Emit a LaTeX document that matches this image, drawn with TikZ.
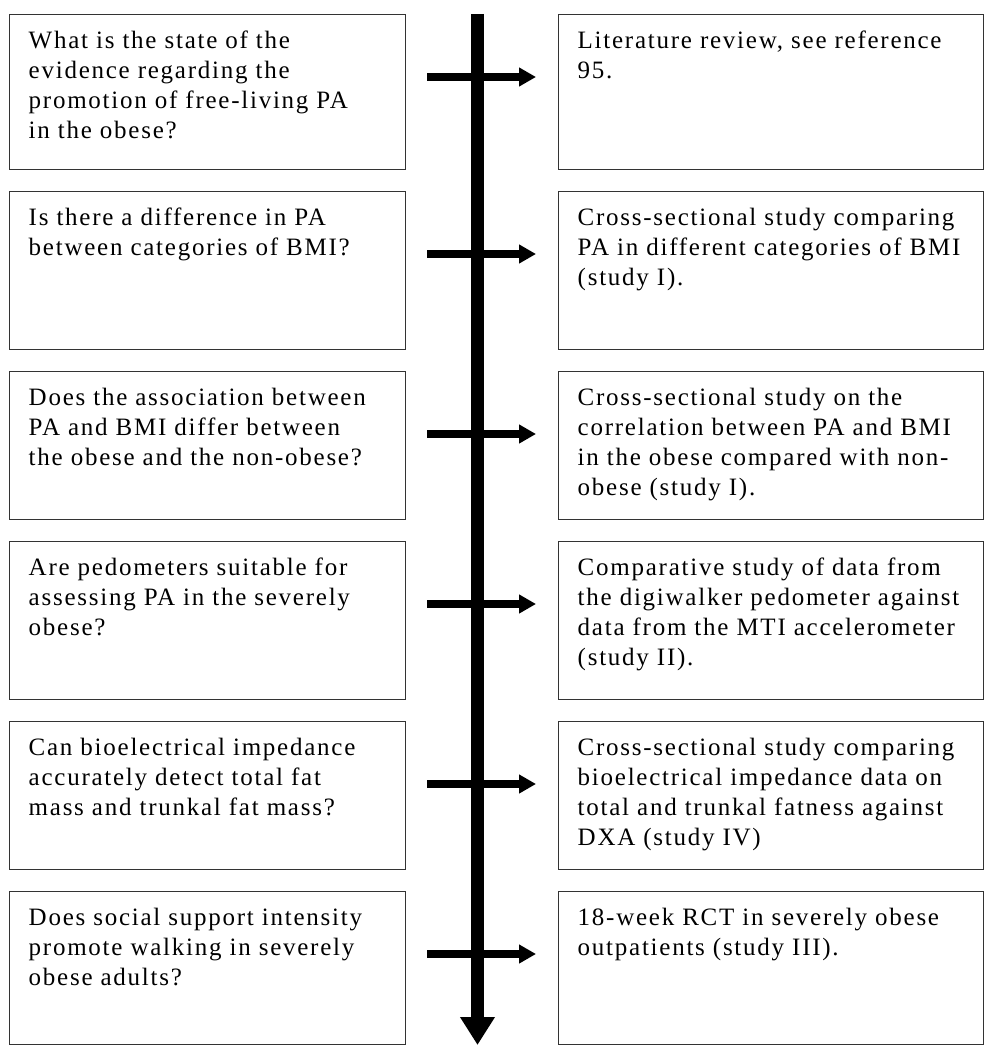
\documentclass[tikz,border=0pt]{standalone}
\usepackage{fontspec}
\setmainfont{Liberation Serif}[LetterSpace=7]
\usetikzlibrary{arrows.meta,calc}
\newcommand\bxt[3]{\begin{minipage}[c][#2][t]{#1}\raggedright\leftskip=19pt\parindent=0pt\fontsize{25pt}{30pt}\selectfont\rule{0pt}{34pt}#3\end{minipage}}
\begin{document}
\begin{tikzpicture}[x=1pt,y=-1pt,
  box/.style={draw=black!80, line width=1.4pt, inner sep=0pt, anchor=north west},
  harrow/.style={line width=7.5pt, -{Triangle[length=17pt,width=18pt]}, shorten <=21pt, shorten >=22pt},
  varrow/.style={line width=13pt, -{Triangle[length=28pt,width=33pt]}}]
\useasboundingbox (0,0) rectangle (985,1046);
% left column
\node[box] (q1) at (9,14)  {\bxt{396pt}{155pt}{What is the state of the\\evidence regarding the\\promotion of free-living PA\\in the obese?}};
\node[box] (q2) at (9,191) {\bxt{396pt}{158pt}{Is there a difference in PA\\between categories of BMI?}};
\node[box] (q3) at (9,371) {\bxt{396pt}{148pt}{Does the association between\\PA and BMI differ between\\the obese and the non-obese?}};
\node[box] (q4) at (9,541) {\bxt{396pt}{158pt}{Are pedometers suitable for\\assessing PA in the severely\\obese?}};
\node[box] (q5) at (9,721) {\bxt{396pt}{148pt}{Can bioelectrical impedance\\accurately detect total fat\\mass and trunkal fat mass?}};
\node[box] (q6) at (9,891) {\bxt{396pt}{153pt}{Does social support intensity\\promote walking in severely\\obese adults?}};
% right column
\node[box] (a1) at (558,14)  {\bxt{425pt}{155pt}{Literature review, see reference\\95.}};
\node[box] (a2) at (558,191) {\bxt{425pt}{158pt}{Cross-sectional study comparing\\PA in different categories of BMI\\(study I).}};
\node[box] (a3) at (558,371) {\bxt{425pt}{148pt}{Cross-sectional study on the\\correlation between PA and BMI\\in the obese compared with non-\\obese (study I).}};
\node[box] (a4) at (558,541) {\bxt{425pt}{158pt}{Comparative study of data from\\the digiwalker pedometer against\\data from the MTI accelerometer\\(study II).}};
\node[box] (a5) at (558,721) {\bxt{425pt}{148pt}{Cross-sectional study comparing\\bioelectrical impedance data on\\total and trunkal fatness against\\DXA (study IV)}};
\node[box] (a6) at (558,891) {\bxt{425pt}{153pt}{18-week RCT in severely obese\\outpatients (study III).}};
% timeline
\coordinate (vtop) at (477.5,14);
\coordinate (vbot) at (477.5,1045);
\draw[varrow] (vtop) -- (vbot);
% horizontal arrows
\foreach \i in {1,...,6}{
  \draw[harrow] ($(q\i.north east)+(0,63)$) -- ($(a\i.north west)+(0,63)$);
}
\end{tikzpicture}
\end{document}
